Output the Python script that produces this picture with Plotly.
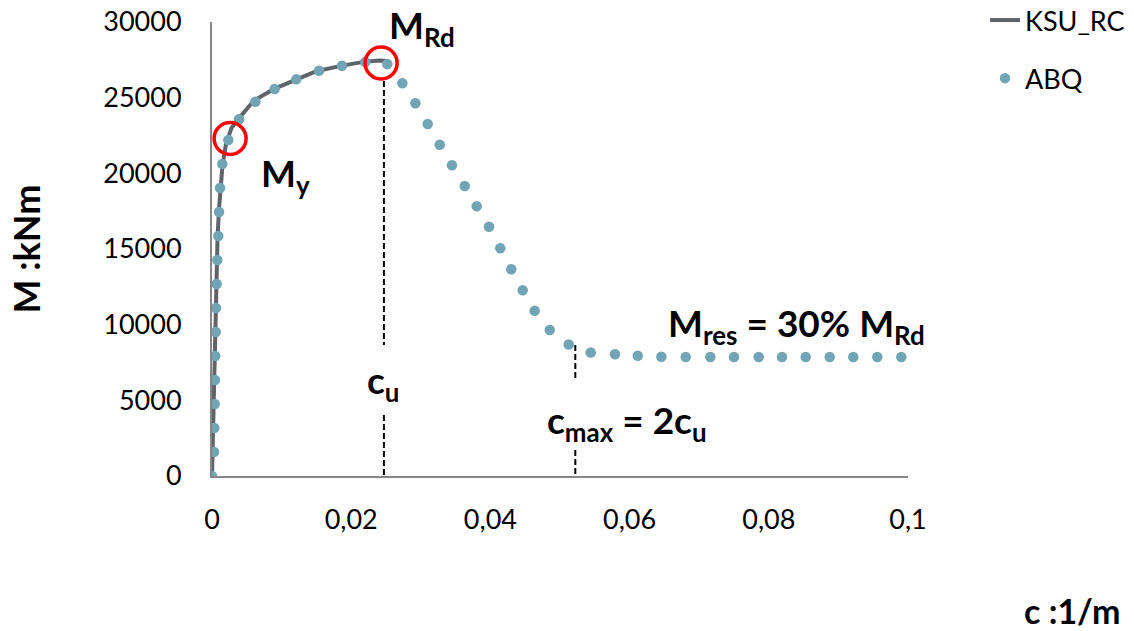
import plotly.graph_objects as go

# ---------------- data ----------------
ksu_x = [0, 0.0002, 0.0004, 0.0006, 0.0008, 0.0010, 0.0012, 0.0015, 0.0020, 0.0028,
         0.0040, 0.0060, 0.0090, 0.0120, 0.0150, 0.0185, 0.0220, 0.0240, 0.0253]
ksu_y = [0, 4500, 9000, 13000, 15800, 17600, 19000, 20500, 21900, 23000,
         23700, 24800, 25600, 26200, 26750, 27100, 27380, 27450, 27420]

abq_x = [0, 0.00029, 0.00033, 0.00039, 0.00043, 0.00047, 0.00053, 0.00057, 0.00067, 0.00076,
         0.00091, 0.00101, 0.00115, 0.00148, 0.00234, 0.00389, 0.00623, 0.00901, 0.01211, 0.01537,
         0.01868, 0.02203, 0.02519, 0.02735, 0.02922, 0.03099, 0.03272, 0.03448, 0.03631, 0.03803,
         0.03980, 0.04142, 0.04300, 0.04464, 0.04636, 0.04853, 0.05125, 0.05441, 0.05790, 0.06117,
         0.06456, 0.06806, 0.07160, 0.07500, 0.07855, 0.08190, 0.08530, 0.08875, 0.09214, 0.09559,
         0.09904]
abq_y = [0, 1590, 3170, 4760, 6340, 7930, 9520, 11100, 12690, 14270,
         15860, 17450, 19030, 20620, 22200, 23570, 24730, 25570, 26210, 26780,
         27110, 27360, 27230, 25950, 24630, 23260, 21890, 20530, 19160, 17820,
         16470, 15050, 13660, 12270, 10920, 9650, 8690, 8160, 8050, 7950,
         7880, 7860, 7860, 7860, 7860, 7860, 7860, 7860, 7860, 7860,
         7860]

x_tickvals = [0, 0.02, 0.04, 0.06, 0.08, 0.1]
x_ticktext = ["0", "0,02", "0,04", "0,06", "0,08", "0,1"]
y_tickvals = [0, 5000, 10000, 15000, 20000, 25000, 30000]
y_ticktext = ["0", "5000", "10000", "15000", "20000", "25000", "30000"]

# key points
my_pt = (0.0026, 22300)
mrd_pt = (0.0243, 27290)
c_u = 0.0247
c_max = 0.0522

# ---------------- figure ----------------
FONT = "Lato"
LINE_COL = "#5F636A"
DOT_COL = "#71A4B4"
W, H = 1134, 631
L, R, T, B = 212, 908, 22, 476   # plot area in pixels


def px_x(p):
    return (p - L) / (R - L)


def px_y(p):
    return (B - p) / (B - T)


fig = go.Figure()
fig.add_trace(go.Scatter(x=ksu_x, y=ksu_y, mode="lines", name="KSU_RC",
                         line=dict(color=LINE_COL, width=4), legendgroup="a"))
fig.add_trace(go.Scatter(x=abq_x, y=abq_y, mode="markers", name="ABQ",
                         marker=dict(color=DOT_COL, size=10.5, line=dict(width=0)),
                         legendgroup="b"))

shapes = []
dash_style = dict(color="black", width=2, dash="6px,3px")
shapes.append(dict(type="line", xref="x", yref="y", x0=c_u, x1=c_u, y0=26100, y1=8650, line=dash_style))
shapes.append(dict(type="line", xref="x", yref="y", x0=c_u, x1=c_u, y0=4030, y1=0, line=dash_style))
shapes.append(dict(type="line", xref="x", yref="y", x0=c_max, x1=c_max, y0=8650, y1=6360, line=dash_style))
shapes.append(dict(type="line", xref="x", yref="y", x0=c_max, x1=c_max, y0=1720, y1=0, line=dash_style))
for (cx, cy) in (my_pt, mrd_pt):
    shapes.append(dict(type="circle", xref="x", yref="y", xsizemode="pixel", ysizemode="pixel",
                       xanchor=cx, yanchor=cy, x0=-16, x1=16, y0=-16, y1=16,
                       line=dict(color="#FF0000", width=3.5)))

ann_font = dict(family=FONT, size=37, color="black")
annotations = [
    dict(x=0.0252, y=29650, xref="x", yref="y", text="<b>M<sub>Rd</sub></b>",
         showarrow=False, xanchor="left", yanchor="middle", font=ann_font),
    dict(x=0.0068, y=19850, xref="x", yref="y", text="<b>M<sub>y</sub></b>",
         showarrow=False, xanchor="left", yanchor="middle", font=ann_font),
    dict(x=0.0220, y=6210, xref="x", yref="y", text="<b>c<sub>u</sub></b>",
         showarrow=False, xanchor="left", yanchor="middle", font=ann_font),
    dict(x=0.0652, y=9978, xref="x", yref="y", text="<b>M<sub>res</sub> = 30% M<sub>Rd</sub></b>",
         showarrow=False, xanchor="left", yanchor="middle", font=ann_font),
    dict(x=0.0478, y=3568, xref="x", yref="y", text="<b>c<sub>max</sub> = 2c<sub>u</sub></b>",
         showarrow=False, xanchor="left", yanchor="middle", font=ann_font),
    dict(x=px_x(1122), y=px_y(610), xref="paper", yref="paper", text="<b>c :1/m</b>",
         showarrow=False, xanchor="right", yanchor="middle",
         font=dict(family=FONT, size=34, color="black")),
]

fig.update_layout(
    width=W, height=H,
    margin=dict(l=L, r=W - R, t=T, b=H - B, autoexpand=False),
    paper_bgcolor="white", plot_bgcolor="white",
    font=dict(family=FONT, size=27, color="black"),
    shapes=shapes, annotations=annotations,
    showlegend=True,
    legend=dict(xref="paper", yref="paper", x=px_x(985), y=px_y(-4),
                xanchor="left", yanchor="top", bgcolor="rgba(0,0,0,0)",
                font=dict(family=FONT, size=27, color="black"),
                traceorder="grouped", tracegroupgap=20, itemwidth=30),
    xaxis=dict(range=[0, 0.1], tickvals=x_tickvals, ticktext=x_ticktext, automargin=False,
               showgrid=False, zeroline=False, showline=True, linecolor="#868686", linewidth=2,
               ticks="", ticklabelstandoff=19, tickfont=dict(family=FONT, size=27, color="black")),
    yaxis=dict(range=[0, 30000], tickvals=y_tickvals, ticktext=y_ticktext, automargin=False,
               showgrid=False, zeroline=False, showline=True, linecolor="#868686", linewidth=2,
               ticks="", ticklabelstandoff=23, tickfont=dict(family=FONT, size=27, color="black"),
               title=dict(text="<b>M :kNm</b>", standoff=52,
                          font=dict(family=FONT, size=36, color="black"))),
)

fig.write_html("out.html", config={"displayModeBar": False},
               post_script="document.body.style.margin='0';document.body.style.overflow='hidden';")
